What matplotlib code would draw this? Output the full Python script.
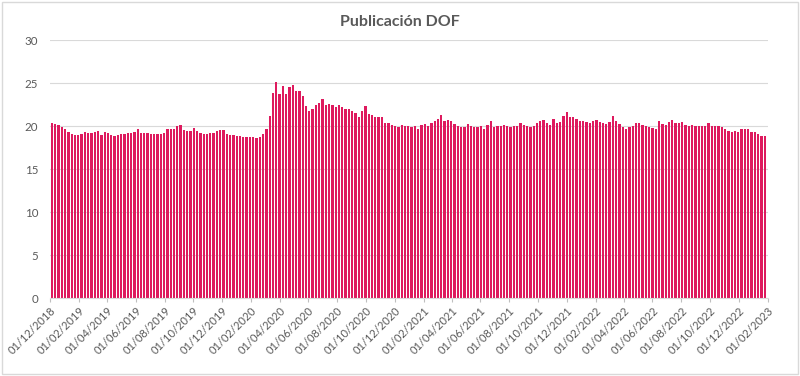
import matplotlib
matplotlib.use("Agg")
import matplotlib.dates as mdates
import matplotlib.pyplot as plt
import pandas as pd
from matplotlib.patches import Rectangle

# valores semanales (lunes a viernes)
first_monday = "2018-12-03"
weekly_values = [
    20.4, 20.2, 20.1, 19.9, 19.6, 19.3, 19.1, 19.0, 19.0, 19.1,
    19.3, 19.2, 19.2, 19.3, 19.4, 19.0, 19.3, 19.2, 18.9, 18.85,
    19.0, 19.1, 19.1, 19.2, 19.15, 19.3, 19.65, 19.2, 19.15, 19.2,
    19.1, 19.05, 19.1, 19.1, 19.2, 19.65, 19.6, 19.7, 20.0, 20.1,
    19.5, 19.4, 19.45, 19.75, 19.45, 19.2, 19.1, 19.1, 19.15, 19.2,
    19.45, 19.5, 19.5, 19.1, 18.9, 18.9, 18.85, 18.8, 18.75, 18.7,
    18.75, 18.7, 18.6, 18.7, 19.1, 19.65, 21.2, 23.8, 25.1, 23.7,
    24.6, 23.7, 24.5, 24.8, 24.1, 24.1, 23.5, 22.3, 21.7, 22.0,
    22.4, 22.7, 23.1, 22.5, 22.6, 22.5, 22.2, 22.5, 22.2, 22.0,
    22.0, 21.8, 21.5, 21.1, 21.8, 22.3, 21.4, 21.3, 21.1, 21.0,
    21.1, 20.4, 20.3, 20.1, 20.05, 19.85, 20.1, 20.05, 20.0, 19.85,
    20.0, 19.65, 20.1, 20.2, 20.05, 20.4, 20.6, 20.8, 21.3, 20.6,
    20.75, 20.6, 20.2, 20.05, 19.85, 19.85, 20.2, 20.0, 19.85, 19.85,
    20.0, 19.7, 20.1, 20.6, 19.85, 20.0, 20.0, 20.1, 20.0, 19.85,
    20.05, 20.05, 20.3, 20.15, 20.0, 19.9, 20.05, 20.3, 20.55, 20.75,
    20.35, 20.1, 20.8, 20.4, 20.5, 21.2, 21.6, 21.0, 21.1, 20.8,
    20.6, 20.55, 20.45, 20.35, 20.55, 20.7, 20.5, 20.35, 20.2, 20.5,
    21.2, 20.6, 20.2, 19.9, 19.7, 19.9, 20.05, 20.3, 20.3, 20.1,
    20.0, 19.9, 19.75, 19.6, 20.6, 20.2, 20.1, 20.5, 20.7, 20.4,
    20.4, 20.5, 20.1, 20.0, 20.1, 20.05, 20.05, 20.0, 20.0, 20.35,
    20.05, 20.0, 20.0, 19.85, 19.7, 19.45, 19.35, 19.45, 19.25, 19.7,
    19.7, 19.7, 19.35, 19.35, 19.05, 18.8, 18.8,
]
x_start, x_end = "2018-12-01", "2023-02-01"
y_ticks = [0, 5, 10, 15, 20, 25, 30]

BAR = "#DE1A5E"
GREY_TXT = "#595959"
GRID = "#D9D9D9"

plt.rcParams["font.family"] = ["Lato", "DejaVu Sans"]

weeks = pd.date_range(first_monday, periods=len(weekly_values), freq="7D")

fig = plt.figure(figsize=(8, 3.76), dpi=100)
fig.patch.set_facecolor("white")
ax = fig.add_axes([0.0625, 0.2074, 0.8975, 0.6862])

ax.bar(mdates.date2num(weeks) - 0.4, weekly_values, width=4.8,
       align="edge", color=BAR, linewidth=0, zorder=2)

ax.set_xlim(mdates.datestr2num(x_start), mdates.datestr2num(x_end))
ax.set_ylim(y_ticks[0], y_ticks[-1])
ax.set_yticks(y_ticks)
ax.grid(axis="y", color=GRID, linewidth=0.8, zorder=0)
ax.set_axisbelow(True)

ax.xaxis.set_major_locator(mdates.MonthLocator(bymonth=[2, 4, 6, 8, 10, 12], bymonthday=1))
ax.xaxis.set_major_formatter(mdates.DateFormatter("%d/%m/%Y"))
ax.tick_params(axis="x", length=3, color="#BFBFBF", labelsize=8,
               labelcolor=GREY_TXT, pad=2)
ax.tick_params(axis="y", length=0, labelsize=8.3, labelcolor=GREY_TXT, pad=8.5)
for lab in ax.get_xticklabels():
    lab.set_rotation(45)
    lab.set_ha("right")
    lab.set_va("top")
    lab.set_rotation_mode("anchor")

for s in ("top", "right", "left"):
    ax.spines[s].set_visible(False)
ax.spines["bottom"].set_color(GRID)

fig.text(0.5, 1 - 22 / 376, "Publicación DOF", ha="center", va="center",
         fontsize=11.5, fontweight="bold", color=GREY_TXT)
fig.patches.append(Rectangle((0.002, 0.006), 0.995, 0.99, transform=fig.transFigure,
                             fill=False, edgecolor=GRID, linewidth=1))

fig.savefig("out.png", dpi=100, facecolor="white")
